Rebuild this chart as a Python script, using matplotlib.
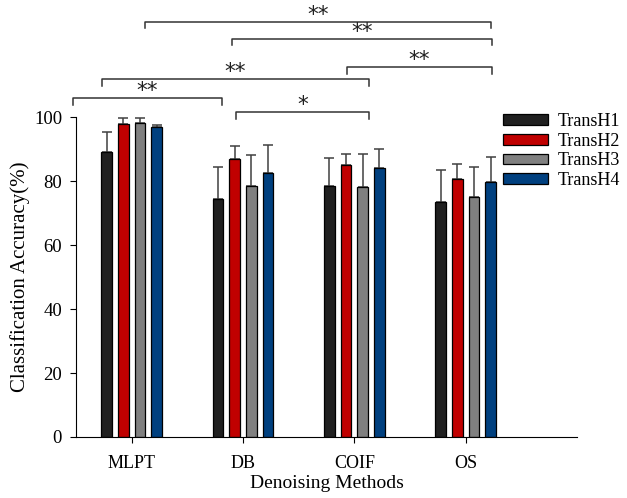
import numpy as np
import matplotlib.pyplot as plt

plt.rcParams['font.family'] = ['Liberation Serif', 'DejaVu Serif']

methods = ['MLPT', 'DB', 'COIF', 'OS']
series = ['TransH1', 'TransH2', 'TransH3', 'TransH4']
colors = ['#202020', '#c00000', '#808080', '#00407f']

# mean accuracy per method (rows = TransH1..4)
acc = np.array([
    [89.0, 74.5, 78.6, 73.3],
    [97.8, 86.8, 85.0, 80.7],
    [98.1, 78.6, 78.1, 75.0],
    [96.9, 82.5, 84.2, 79.8],
])
# upper error (std)
err = np.array([
    [6.3, 10.0, 8.6, 10.0],
    [1.9, 4.0, 3.4, 4.5],
    [1.6, 9.4, 10.3, 9.5],
    [0.6, 8.9, 5.8, 7.8],
])

# significance brackets: x start, x end, height, label
sig_x1 = [0.12, 0.90, 1.93, -0.27, -0.53, 0.94]
sig_x2 = [3.23, 3.24, 3.24, 2.13, 0.81, 2.13]
sig_y = [129.8, 124.5, 115.5, 111.8, 105.9, 101.6]
sig_lab = ['**', '**', '**', '**', '**', '*']

fig = plt.figure(figsize=(6.27, 4.98), dpi=100)
ax = fig.add_axes([0.1212, 0.1225, 0.7991, 0.6425])

x = np.arange(len(methods))
w = 0.095
step = 0.15
for i in range(len(series)):
    pos = x + (i - 1.5) * step
    ax.bar(pos, acc[i], w, color=colors[i], edgecolor='black', linewidth=0.9,
           label=series[i], zorder=2)
    ax.errorbar(pos, acc[i], yerr=[np.zeros(4), err[i]], fmt='none',
                ecolor='#404040', elinewidth=1.1, capsize=3.6, capthick=1.1, zorder=1)

for x1, x2, y, lab in zip(sig_x1, sig_x2, sig_y, sig_lab):
    ax.plot([x1, x1, x2, x2], [y - 2.1, y, y, y - 2.1], color='#333333',
            lw=1.1, clip_on=False)
    ax.text((x1 + x2) / 2, y + 0.3, lab, ha='center', va='baseline', fontsize=15.5,
            family='DejaVu Sans', color='#222222', clip_on=False)

ax.set_xlim(-0.5, 4.0)
ax.set_ylim(0, 100)
ax.set_yticks([0, 20, 40, 60, 80, 100])
ax.set_xticks(x)
ax.set_xticklabels(methods, fontsize=13)
ax.tick_params(axis='y', labelsize=13.5, direction='out', length=4, pad=6)
ax.tick_params(axis='x', direction='out', length=4, pad=9)
ax.spines['top'].set_visible(False)
ax.spines['right'].set_visible(False)
ax.set_xlabel('Denoising Methods', fontsize=14, labelpad=2)
ax.set_ylabel('Classification Accuracy(%)', fontsize=15, labelpad=3)

ax.legend(loc='upper left', bbox_to_anchor=(503 / 627, 1 - 113 / 498),
          bbox_transform=fig.transFigure, frameon=False, borderpad=0,
          borderaxespad=0, fontsize=13, handlelength=2.5, handleheight=0.55,
          labelspacing=0.15, handletextpad=0.55)

fig.savefig('out.png', dpi=100)
